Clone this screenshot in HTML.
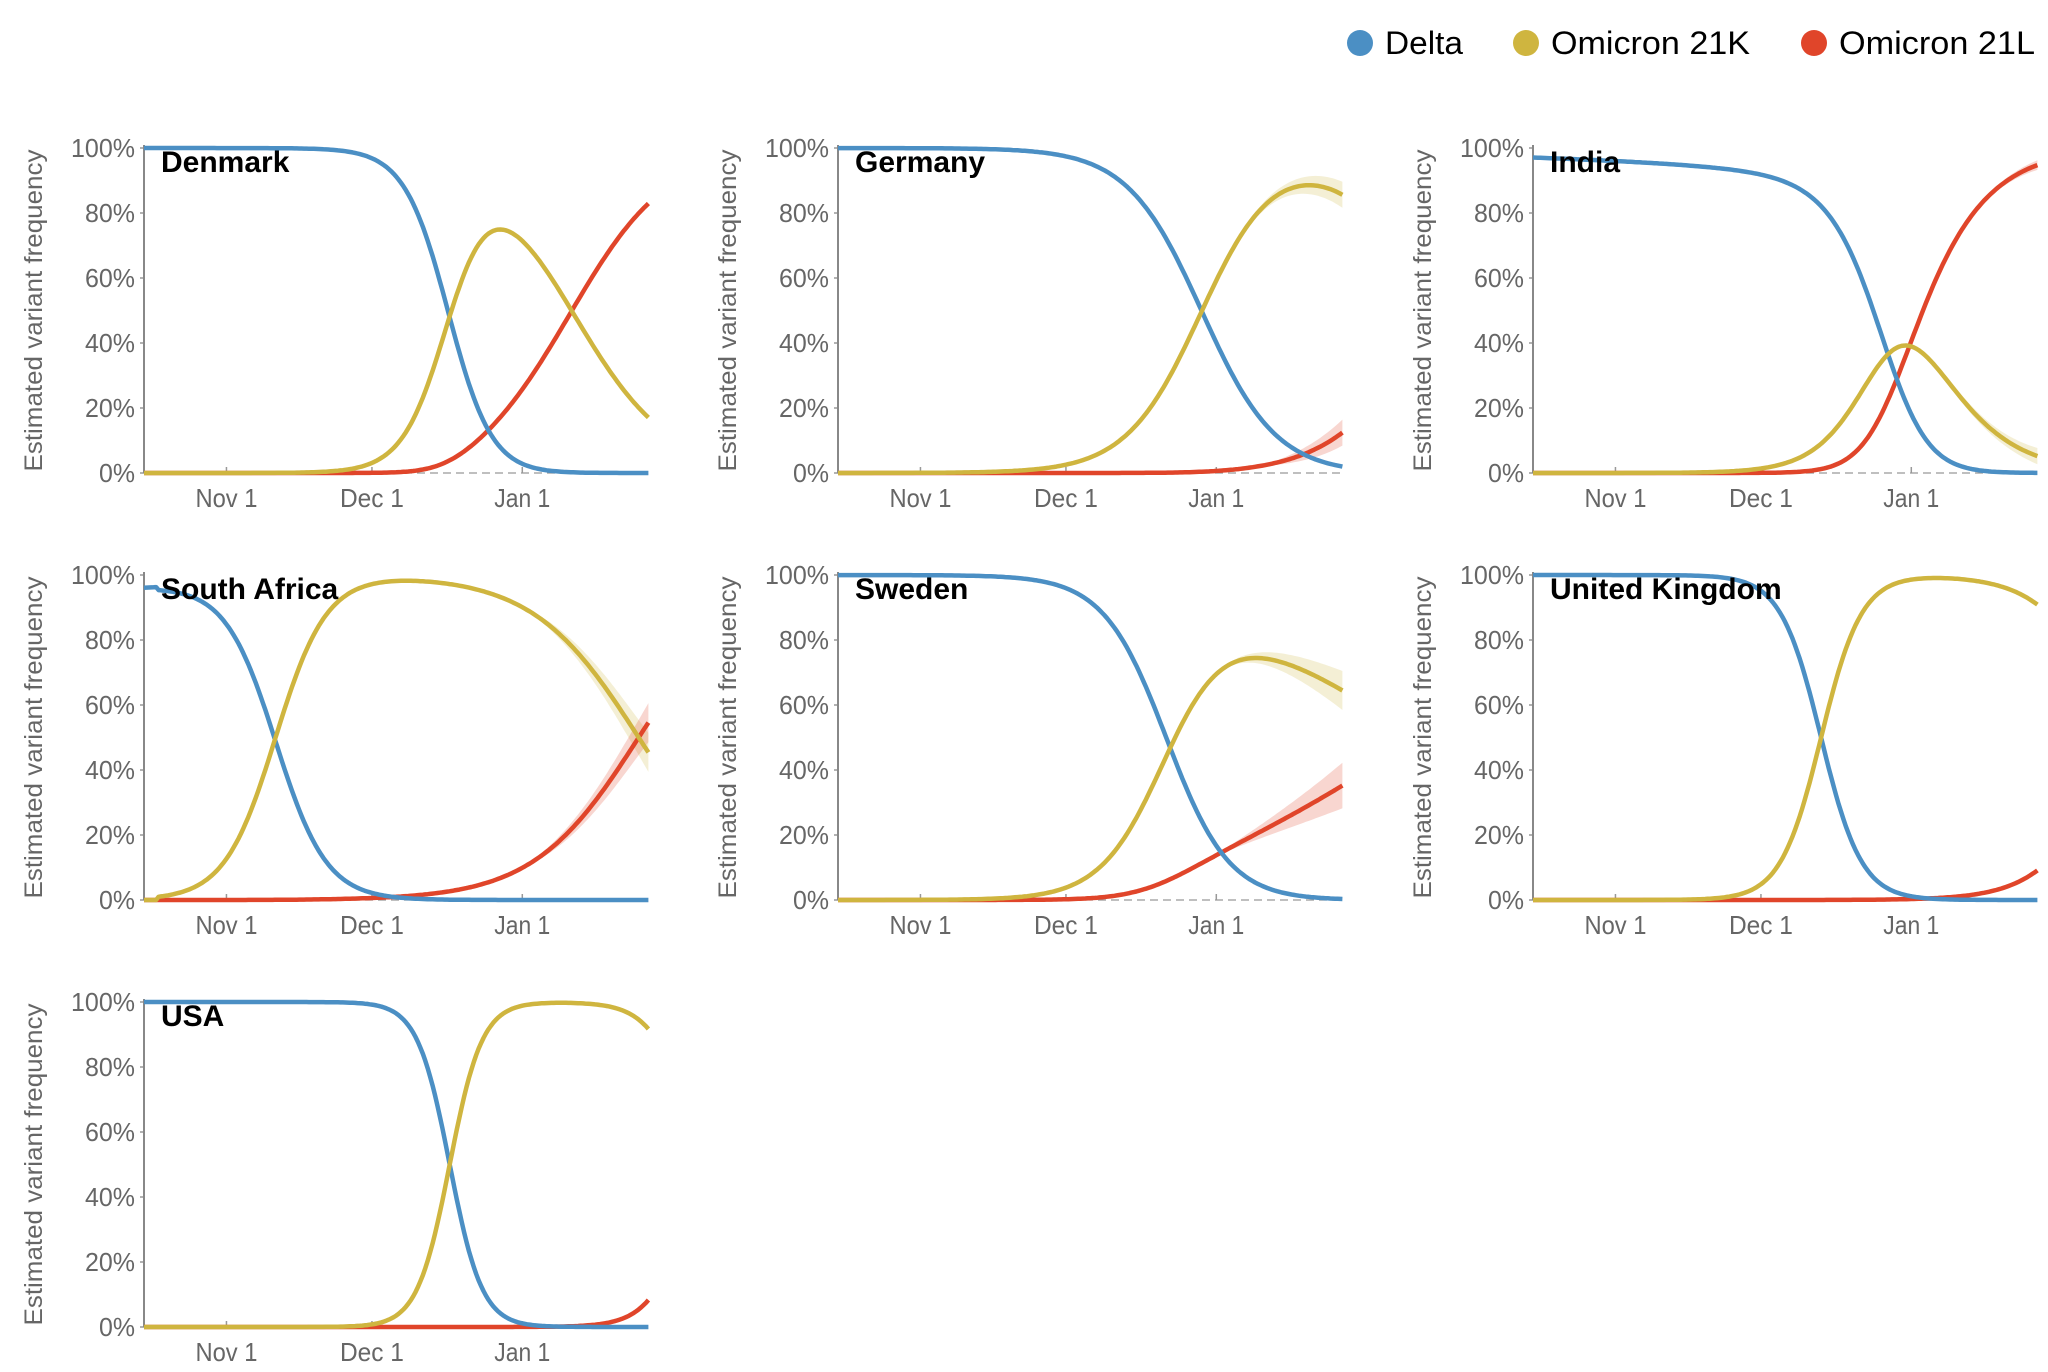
<!DOCTYPE html>
<html><head><meta charset="utf-8"><style>
html,body{margin:0;padding:0;background:#fff;}
svg{display:block;font-family:"Liberation Sans",Arial,sans-serif;}
</style></head><body>
<svg id="s" width="2048" height="1372" viewBox="0 0 2048 1372" xmlns="http://www.w3.org/2000/svg">
<g font-size="32" fill="#000">
<circle cx="1360" cy="43" r="13" fill="#4b8fc4"/><text x="1385" y="54" textLength="78" lengthAdjust="spacingAndGlyphs">Delta</text>
<circle cx="1526" cy="43" r="13" fill="#cfb53f"/><text x="1551" y="54" textLength="199" lengthAdjust="spacingAndGlyphs">Omicron 21K</text>
<circle cx="1814" cy="43" r="13" fill="#e0452a"/><text x="1839" y="54" textLength="196" lengthAdjust="spacingAndGlyphs">Omicron 21L</text>
</g>
</svg>
<script>
const S=document.getElementById('s');const NS='http://www.w3.org/2000/svg';
function el(t,a,txt){const e=document.createElementNS(NS,t);for(const k in a)e.setAttribute(k,a[k]);if(txt!==undefined)e.textContent=txt;S.appendChild(e);return e;}
const C={D:'#4b8fc4',K:'#cfb53f',L:'#e0452a'};
const PXD=4.85, W=504, H=325, END=104;
const P=[
 {n:'Denmark',c:0,r:0,K:t=>0.215*(t-63),L:t=>0.315*(t-71),O:t=>-9},
 {n:'Germany',c:1,r:0,K:t=>0.13*(t-75),L:t=>0.23*(t-96),O:t=>-9,band:{K:[75,4],L:[85,4]}},
 {n:'India',c:2,r:0,K:t=>0.16*(t-73.2),L:t=>0.27*(t-75),O:t=>-3.5+0.019*t,band:{K:[68,2.5],L:[80,1.5]}},
 {n:'South Africa',c:0,r:1,K:t=>t<3?-12:0.19*(t-27),L:t=>0.19*(t-27)+0.092*(t-102),O:t=>-3.2-0.02*t,band:{K:[75,6],L:[75,6]}},
 {n:'Sweden',c:1,r:1,K:t=>0.15*(t-68.5),L:t=>0.15*(t-68.5)-1.58+0.039*(t-79),O:t=>-9,band:{K:[75,6],L:[75,7]}},
 {n:'United Kingdom',c:2,r:1,K:t=>0.24*(t-59.4),L:t=>0.24*(t-59.4)-2.3+0.135*(t-104),O:t=>-9},
 {n:'USA',c:0,r:2,K:t=>0.3*(t-63),L:t=>0.3*(t-63)-2.4+0.23*(t-104),O:t=>-4.5+0.06*Math.max(0,t-63)}
];
const AX=[144,838,1533], TOP=[148,575,1002];
function freqs(p,t){const k=Math.exp(p.K(t)),l=Math.exp(p.L(t)),o=Math.exp(p.O(t));const s=1+k+l+o;return {D:(1+(p.n=='USA'?o:0))/s,K:k/s,L:l/s};}
P.forEach(p=>{
 const x0=AX[p.c], y0=TOP[p.r], yb=y0+H;
 const X=t=>x0+t*PXD, Y=f=>yb-f*H;
 el('text',{x:0,y:0,transform:`translate(${x0-111+9},${y0+H/2}) rotate(-90)`,'text-anchor':'middle','font-size':25,fill:'#666',textLength:322,lengthAdjust:'spacingAndGlyphs'},'Estimated variant frequency');
 for(let i=0;i<=5;i++){const y=Y(i/5);el('text',{x:x0-9,y:y+9,'text-anchor':'end','font-size':26,fill:'#666',textLength:i==5?64:i==0?36:50,lengthAdjust:'spacingAndGlyphs'},(i*20)+'%');
  el('line',{x1:x0-4,x2:x0,y1:y,y2:y,stroke:'#999','stroke-width':1.5});}
 el('line',{x1:x0,x2:x0,y1:y0-3,y2:yb,stroke:'#888','stroke-width':2});
 el('line',{x1:x0,x2:x0+W,y1:yb,y2:yb,stroke:'#999','stroke-width':1.2,'stroke-dasharray':'8 5'});
 [['Nov 1',17],['Dec 1',47],['Jan 1',78]].forEach(([s,d])=>{const x=X(d);el('line',{x1:x,x2:x,y1:yb,y2:yb-6,stroke:'#999','stroke-width':1.5});
  el('text',{x:x,y:yb+34,'text-anchor':'middle','font-size':26,fill:'#666',textLength:s=='Nov 1'?62:s=='Dec 1'?64:56,lengthAdjust:'spacingAndGlyphs'},s);});
 const pts=[];for(let t=0;t<=END;t+=0.5)pts.push([t,freqs(p,t)]);
 if(p.band){for(const v in p.band){const [t0,w]=p.band[v];let up=[],lo=[];
   pts.forEach(([t,f])=>{if(t<t0)return;let r=Math.pow((t-t0)/(END-t0),1.4);let h=w/100*r;up.push(X(t).toFixed(1)+','+Y(Math.min(1,f[v]+h)).toFixed(1));lo.unshift(X(t).toFixed(1)+','+Y(Math.max(0,f[v]-h)).toFixed(1));});
   el('polygon',{points:up.concat(lo).join(' '),fill:C[v],'fill-opacity':0.22});}}
 ['L','D','K'].forEach(v=>{const d=pts.map(([t,f],i)=>(i?'L':'M')+X(t).toFixed(1)+','+Y(f[v]).toFixed(1)).join('');
   el('path',{d:d,fill:'none',stroke:C[v],'stroke-width':4.5,'stroke-linejoin':'round'});});
 el('text',{x:x0+17,y:y0+24,'font-size':30,'font-weight':'bold',fill:'#000'},p.n);
});
</script>
</body></html>
